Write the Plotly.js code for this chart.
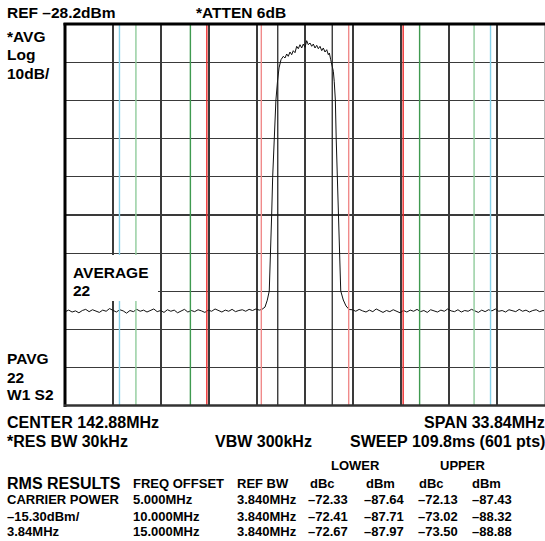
<!DOCTYPE html>
<html>
<head>
<meta charset="utf-8">
<script src="https://cdn.plot.ly/plotly-3.0.1.min.js"></script>
<style>
html,body{margin:0;padding:0;background:#fff;}
#chart{width:545px;height:541px;}
</style>
</head>
<body>
<div id="chart"></div>
<script>
// ---- instrument settings ----
const CENTER_MHZ = 142.88;
const SPAN_MHZ = 33.84;
const REF_DBM = -28.2;
const DB_PER_DIV = 10;
const CHANNEL_BW_MHZ = 3.84;
const ADJ_OFFSETS_MHZ = [5, 10, 15];

// ---- trace: offset from center (MHz) and level (dBm) ----
const leftNoiseOffset = [-16.90,-16.66,-16.42,-16.18,-15.94,-15.70,-15.46,-15.22,-14.98,-14.74,-14.50,-14.26,-14.02,-13.78,-13.54,-13.30,-13.06,-12.82,-12.58,-12.34,-12.10,-11.86,-11.62,-11.38,-11.14,-10.90,-10.66,-10.42,-10.18,-9.94,-9.70,-9.46,-9.22,-8.98,-8.74,-8.50,-8.26,-8.02,-7.78,-7.54,-7.30,-7.06,-6.82,-6.58,-6.34,-6.10,-5.86,-5.62,-5.38,-5.14,-4.90,-4.66,-4.42,-4.18,-3.94,-3.70,-3.46,-3.22];
const leftNoiseLevel = [-103.5,-103.1,-103.6,-103.3,-103.8,-103.2,-102.9,-103.5,-103.0,-103.4,-103.7,-103.1,-103.4,-102.7,-103.2,-103.6,-103.0,-103.3,-103.9,-103.2,-103.5,-102.9,-103.4,-103.1,-103.6,-103.3,-102.8,-103.5,-103.2,-103.7,-103.0,-103.4,-103.1,-103.8,-103.3,-102.9,-103.6,-103.2,-103.5,-103.0,-103.3,-103.7,-103.1,-103.4,-102.8,-103.3,-103.6,-103.1,-103.4,-102.9,-103.5,-103.2,-103.0,-103.4,-102.9,-103.2,-102.8,-103.1];

const channelOffset = [-3.03,-2.82,-2.66,-2.52,-2.42,-2.35,-2.28,-2.19,-2.05,-1.93,-1.83,-1.694,-1.531,-1.411,-1.291,-1.179,-1.059,-0.939,-0.826,-0.706,-0.586,-0.473,-0.353,-0.233,-0.120,0.000,0.120,0.233,0.353,0.473,0.586,0.706,0.826,0.939,1.059,1.179,1.291,1.411,1.531,1.644,1.715,1.814,1.884,1.997,2.06,2.10,2.14,2.20,2.27,2.34,2.42,2.52,2.70,2.89,3.11];
const channelLevel = [-102.9,-102.3,-100.5,-98.1,-88.1,-78.2,-68.3,-58.3,-48.1,-42.9,-39.7,-37.55,-36.66,-37.10,-36.05,-36.66,-35.53,-36.24,-35.19,-35.71,-34.04,-34.67,-33.62,-34.48,-33.44,-34.30,-32.57,-33.62,-33.17,-34.04,-33.44,-34.48,-33.78,-34.67,-34.04,-35.19,-34.48,-35.53,-34.93,-36.24,-35.79,-37.55,-38.85,-40.58,-43.20,-44.95,-48.10,-58.30,-68.25,-78.20,-88.15,-98.10,-100.45,-102.0,-102.94];

const rightNoiseOffset = [3.34,3.58,3.82,4.06,4.30,4.54,4.78,5.02,5.26,5.50,5.74,5.98,6.22,6.46,6.70,6.94,7.18,7.42,7.66,7.90,8.14,8.38,8.62,8.86,9.10,9.34,9.58,9.82,10.06,10.30,10.54,10.78,11.02,11.26,11.50,11.74,11.98,12.22,12.46,12.70,12.94,13.18,13.42,13.66,13.90,14.14,14.38,14.62,14.86,15.10,15.34,15.58,15.82,16.06,16.30,16.54,16.78,16.92];
const rightNoiseLevel = [-103.0,-103.4,-102.9,-103.3,-103.6,-103.1,-103.5,-102.8,-103.3,-103.7,-103.2,-103.5,-103.0,-103.4,-103.8,-103.2,-103.6,-103.1,-103.4,-102.9,-103.5,-103.2,-103.7,-103.0,-103.3,-103.6,-103.1,-103.4,-102.8,-103.3,-103.5,-103.0,-103.6,-103.2,-103.4,-102.9,-103.3,-103.7,-103.1,-103.5,-103.0,-103.3,-102.8,-103.4,-103.2,-103.6,-103.0,-103.3,-103.5,-102.9,-103.4,-103.1,-103.6,-103.2,-103.0,-103.5,-103.2,-103.3];

// ---- RMS results table ----
const rmsLeftCol = ['CARRIER POWER','–15.30dBm/','3.84MHz'];
const rmsFreqOffset = ['5.000MHz','10.000MHz','15.000MHz'];
const rmsRefBw = ['3.840MHz','3.840MHz','3.840MHz'];
const lowerDbc = ['–72.33','–72.41','–72.67'];
const lowerDbm = ['–87.64','–87.71','–87.97'];
const upperDbc = ['–72.13','–73.02','–73.50'];
const upperDbm = ['–87.43','–88.32','–88.88'];

// ---- layout geometry ----
const W = 545, H = 541;
const PL = 65, PR = 545, PT = 24, PB = 406;
const px = x => (x - PL) / (PR - PL);
const py = y => (PB - y) / (PB - PT);
const FONT = 'Liberation Sans, Arial, Helvetica, sans-serif';

const offsets = leftNoiseOffset.concat(channelOffset, rightNoiseOffset);
const levels = leftNoiseLevel.concat(channelLevel, rightNoiseLevel);
const freqs = offsets.map(o => CENTER_MHZ + o);

const trace = {
  x: freqs, y: levels, type: 'scatter', mode: 'lines',
  line: {color: '#111', width: 1}, hoverinfo: 'skip', cliponaxis: true
};

const fStart = CENTER_MHZ - SPAN_MHZ / 2, fStop = CENTER_MHZ + SPAN_MHZ / 2;

// measurement boundary lines
const shapes = [];
function vline(f, color, width) {
  shapes.push({type: 'line', xref: 'x', yref: 'paper', x0: f, x1: f, y0: 0, y1: 1,
    line: {color: color, width: width}, layer: 'above'});
}
const half = CHANNEL_BW_MHZ / 2;
const innerColors = ['#f08a8a', '#3f9a50', '#86d0e8'];
const outerColors = ['#ee2a2a', '#90cc9c', '#bbbbbb'];
[-1, 1].forEach(s => vline(CENTER_MHZ + s * half, '#1a1a1a', 1.2));
ADJ_OFFSETS_MHZ.forEach((o, i) => {
  [-1, 1].forEach(s => {
    vline(CENTER_MHZ + s * (o - half), innerColors[i], 1.4);
    vline(CENTER_MHZ + s * (o + half), outerColors[i], 1.4);
  });
});
// white label box
shapes.push({type: 'rect', xref: 'paper', yref: 'paper', x0: px(66), x1: px(158), y0: py(301), y1: py(255),
  fillcolor: '#fff', line: {width: 0}, layer: 'above'});
// frame
shapes.push({type: 'line', xref: 'paper', yref: 'paper', x0: px(544.5), x1: px(544.5), y0: 0, y1: 1, line: {color: '#bbbbbb', width: 1}, layer: 'above'});
shapes.push({type: 'line', xref: 'paper', yref: 'paper', x0: px(63.5), x1: 1, y0: py(24), y1: py(24), line: {color: '#000', width: 3}, layer: 'above'});
shapes.push({type: 'line', xref: 'paper', yref: 'paper', x0: px(65), x1: px(65), y0: py(407), y1: py(23), line: {color: '#000', width: 3}, layer: 'above'});
shapes.push({type: 'line', xref: 'paper', yref: 'paper', x0: px(64), x1: 1, y0: py(405.5), y1: py(405.5), line: {color: '#333', width: 2.5}, layer: 'above'});

const annotations = [];
function txt(s, x, y, size, anchor) {
  annotations.push({text: '<b>' + s + '</b>', xref: 'paper', yref: 'paper',
    x: px(x), y: py(y), xanchor: anchor || 'left', yanchor: 'middle', showarrow: false,
    font: {family: FONT, size: size, color: '#000'}, borderpad: 0, borderwidth: 0});
}
txt('REF –28.2dBm', 7, 12.5, 15.5);
txt('*ATTEN 6dB', 196, 12.5, 15.5);
txt('*AVG', 7, 36, 15.5);
txt('Log', 7, 54.5, 15.5);
txt('10dB/', 7, 73, 15.5);
txt('AVERAGE', 72.5, 272, 15.5);
txt('22', 72.5, 290, 15.5);
txt('PAVG', 7, 358.5, 15.5);
txt('22', 7, 377, 15.5);
txt('W1 S2', 7, 394, 15.5);
txt('CENTER 142.88MHz', 7, 422.5, 16);
txt('SPAN 33.84MHz', 545, 422.5, 16, 'right');
txt('*RES BW 30kHz', 7, 441.5, 16);
txt('VBW 300kHz', 215, 441.5, 16);
txt('SWEEP 109.8ms (601 pts)', 545, 441.5, 16, 'right');
txt('LOWER', 355.5, 465, 13, 'center');
txt('UPPER', 462, 465, 13, 'center');
txt('RMS RESULTS', 7, 483, 16);
txt('FREQ OFFSET', 133, 483.5, 13);
txt('REF BW', 237, 483.5, 13);
txt('dBc', 310, 483.5, 13);
txt('dBm', 365.5, 483.5, 13);
txt('dBc', 419, 483.5, 13);
txt('dBm', 472, 483.5, 13);
const rowY = [499.5, 516, 531.5];
rowY.forEach((y, i) => {
  txt(rmsLeftCol[i], 7, y, 13);
  txt(rmsFreqOffset[i], 133, y, 13);
  txt(rmsRefBw[i], 237, y, 13);
  txt(lowerDbc[i], 308, y, 13);
  txt(lowerDbm[i], 364, y, 13);
  txt(upperDbc[i], 418, y, 13);
  txt(upperDbm[i], 471.5, y, 13);
});

const layout = {
  width: W, height: H,
  margin: {l: PL, r: W - PR, t: PT, b: H - PB, pad: 0},
  paper_bgcolor: '#fff', plot_bgcolor: '#fff',
  showlegend: false,
  xaxis: {range: [fStart, fStop], tick0: fStart, dtick: SPAN_MHZ / 10, showgrid: true,
    gridcolor: '#3a3a3a', gridwidth: 1.3, showticklabels: false, ticks: '', zeroline: false, showline: false, fixedrange: true},
  yaxis: {range: [REF_DBM - 10 * DB_PER_DIV, REF_DBM], tick0: REF_DBM, dtick: DB_PER_DIV, showgrid: true,
    gridcolor: '#3a3a3a', gridwidth: 1.3, showticklabels: false, ticks: '', zeroline: false, showline: false, fixedrange: true},
  shapes: shapes,
  annotations: annotations
};

Plotly.newPlot('chart', [trace], layout, {staticPlot: true, displayModeBar: false});
</script>
</body>
</html>
